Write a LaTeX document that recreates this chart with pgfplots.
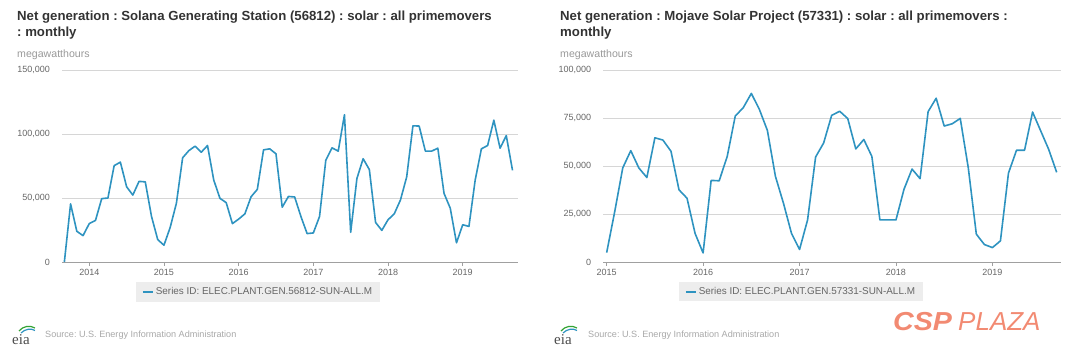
\documentclass[border=0pt]{standalone}
\usepackage{pgfplots}
\pgfplotsset{compat=1.18}
\usepackage{pgfplotstable}
\usepackage{fontspec}
\setmainfont{Liberation Sans}
\newfontfamily\seriffont{Liberation Serif}
\definecolor{eiablue}{HTML}{2E93C0}
\definecolor{titlegray}{HTML}{333333}
\definecolor{tickgray}{HTML}{666666}
\definecolor{unitgray}{HTML}{999999}
\definecolor{gridgray}{HTML}{D6D6D6}
\definecolor{axisgray}{HTML}{A0A0A0}
\definecolor{leggray}{HTML}{EDEDED}
\definecolor{srcgray}{HTML}{A8A8A8}
\definecolor{csp}{HTML}{F28A72}
\frenchspacing

% Solana: month index, Jan 2014 = 0
\pgfplotstableread{
m v
-4 0
-3 45400
-2 24000
-1 20600
0 30000
1 32500
2 49500
3 50000
4 75300
5 78000
6 58800
7 52300
8 63000
9 62600
10 35600
11 17500
12 13100
13 27000
14 45900
15 81400
16 87000
17 90500
18 85800
19 91000
20 64000
21 49700
22 46400
23 30000
24 33500
25 37600
26 51000
27 56700
28 87600
29 88400
30 84500
31 42800
32 51200
33 50800
34 35600
35 22200
36 22700
37 35600
38 79400
39 89200
40 86600
41 115000
42 23200
43 65200
44 80700
45 72200
46 30900
47 24700
48 33000
49 37600
50 48500
51 66500
52 106400
53 106200
54 86600
55 86600
56 88900
57 53600
58 42000
59 15000
60 29100
61 27800
62 63900
63 88400
64 91000
65 110800
66 88900
67 98700
68 71600
}\solana

% Mojave: month index, Jan 2015 = 0
\pgfplotstableread{
m v
0 4900
1 26200
2 49000
3 58000
4 49000
5 44000
6 64700
7 63500
8 57700
9 37600
10 33200
11 14900
12 4700
13 42500
14 42300
15 55000
16 76000
17 80400
18 87800
19 79500
20 68500
21 44600
22 30600
23 14900
24 6500
25 21900
26 54700
27 62000
28 76400
29 78500
30 74700
31 58900
32 63800
33 55000
34 21900
35 21900
36 21900
37 37900
38 48400
39 43400
40 78300
41 85300
42 70800
43 72000
44 74800
45 49000
46 14500
47 9100
48 7500
49 11000
50 46300
51 58200
52 58200
53 78100
54 68400
55 58700
56 46700
}\mojave

\pgfplotsset{
  eiaaxis/.style={
    scale only axis,
    height=192pt,
    axis x line*=bottom,
    axis y line*=left,
    y axis line style={draw=none},
    x axis line style={draw=axisgray, line width=0.8pt},
    ymajorgrids,
    grid style={draw=gridgray, line width=0.6pt},
    ytick style={draw=none},
    xtick style={draw=axisgray, line width=0.6pt},
    major tick length=4pt,
    tick align=outside,
    ymin=0,
    scaled y ticks=false,
    /pgf/number format/.cd, fixed, 1000 sep={,}, assume math mode=true,
    /pgfplots/.cd,
    yticklabel style={font=\fontsize{9}{10}\selectfont, text=tickgray, inner sep=0pt, xshift=-8pt},
    xticklabel style={font=\fontsize{9}{10}\selectfont, text=tickgray, inner sep=0pt, yshift=-3pt},
    legend style={fill=leggray, draw=none, font=\fontsize{9.9}{11}\selectfont, text=tickgray,
      inner xsep=6pt, inner ysep=3.5pt, anchor=center},
    legend image code/.code={\draw[eiablue, line width=2pt] (0pt,0pt) -- (10pt,0pt);},
    clip=false,
  }
}

\begin{document}
\begin{tikzpicture}[x=1pt,y=1pt]
\useasboundingbox (0,0) rectangle (1080,-352);

% ---------- Left panel ----------
\node[anchor=base west, inner sep=0pt, font=\bfseries\fontsize{13.2}{14}\selectfont, text=titlegray] at (17,-21) {Net generation : Solana Generating Station (56812) : solar : all primemovers};
\node[anchor=base west, inner sep=0pt, font=\bfseries\fontsize{13.2}{14}\selectfont, text=titlegray] at (17,-37) {: monthly};
\node[anchor=base west, inner sep=0pt, font=\fontsize{10.6}{11}\selectfont, text=unitgray] at (17,-57.5) {megawatthours};

\begin{axis}[eiaaxis,
  at={(62pt,-262pt)}, anchor=south west,
  width=456.3pt,
  xmin=-4.38, xmax=68.93,
  ymax=150000,
  ytick={0,50000,100000,150000},
  xtick={0,12,24,36,48,60},
  xticklabels={2014,2015,2016,2017,2018,2019},
  legend style={at={(0.4295,-0.156)}},
]
\addplot[eiablue, line width=1.6pt, line join=round] table[x=m, y=v] {\solana};
\addlegendentry{Series ID: ELEC.PLANT.GEN.56812-SUN-ALL.M}
\end{axis}

% eia logo + source (left)
\node[anchor=base west, inner sep=0pt, font=\seriffont\fontsize{15}{16}\selectfont, text=black!70] at (12,-345) {eia};
\draw[green!55!black!80, line width=1.2pt] (19,-331) .. controls (23,-326) and (30,-325) .. (35,-328);
\draw[eiablue, line width=1.2pt] (21,-333) .. controls (25,-329) and (31,-328) .. (35,-330.5);
\node[anchor=base west, inner sep=0pt, font=\fontsize{9.1}{10}\selectfont, text=srcgray] at (45,-338) {Source: U.S. Energy Information Administration};

% ---------- Right panel ----------
\node[anchor=base west, inner sep=0pt, font=\bfseries\fontsize{13.2}{14}\selectfont, text=titlegray] at (560,-21) {Net generation : Mojave Solar Project (57331) : solar : all primemovers :};
\node[anchor=base west, inner sep=0pt, font=\bfseries\fontsize{13.2}{14}\selectfont, text=titlegray] at (560,-37) {monthly};
\node[anchor=base west, inner sep=0pt, font=\fontsize{10.6}{11}\selectfont, text=unitgray] at (560,-57.5) {megawatthours};

\begin{axis}[eiaaxis,
  at={(603.3pt,-262pt)}, anchor=south west,
  width=457.4pt,
  xmin=-0.42, xmax=56.5,
  ymax=100000,
  ytick={0,25000,50000,75000,100000},
  xtick={0,12,24,36,48},
  xticklabels={2015,2016,2017,2018,2019},
  legend style={at={(0.432,-0.154)}},
]
\addplot[eiablue, line width=1.6pt, line join=round] table[x=m, y=v] {\mojave};
\addlegendentry{Series ID: ELEC.PLANT.GEN.57331-SUN-ALL.M}
\end{axis}

% eia logo + source (right)
\node[anchor=base west, inner sep=0pt, font=\seriffont\fontsize{15}{16}\selectfont, text=black!70] at (554,-345) {eia};
\draw[green!55!black!80, line width=1.2pt] (561,-331) .. controls (565,-326) and (572,-325) .. (577,-328);
\draw[eiablue, line width=1.2pt] (563,-333) .. controls (567,-329) and (573,-328) .. (577,-330.5);
\node[anchor=base west, inner sep=0pt, font=\fontsize{9.1}{10}\selectfont, text=srcgray] at (588,-338) {Source: U.S. Energy Information Administration};

% watermark
\node[anchor=base west, inner sep=0pt, font=\bfseries\itshape\fontsize{26}{28}\selectfont, text=csp] at (893,-331) {\scalebox{1.1}[1]{CSP}};
\node[anchor=base west, inner sep=0pt, font=\itshape\fontsize{26}{28}\selectfont, text=csp] at (958,-331) {PLAZA};
\end{tikzpicture}
\end{document}
